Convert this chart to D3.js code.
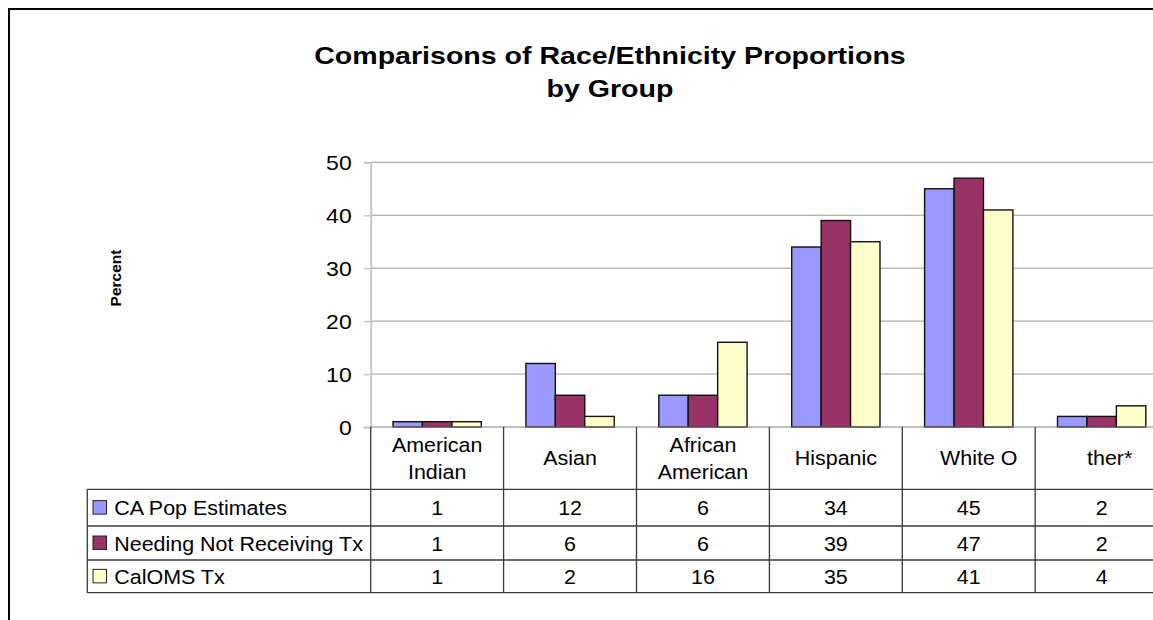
<!DOCTYPE html>
<html>
<head>
<meta charset="utf-8">
<script src="https://cdn.jsdelivr.net/npm/d3@7"></script>
<style>
  html, body { margin: 0; padding: 0; background: #fff; }
  svg { display: block; font-family: Arial, "Liberation Sans", sans-serif; }
</style>
</head>
<body>
<svg id="chart" width="1153" height="620"></svg>
<script>
// ---- data ----
const categories = ["American Indian", "Asian", "African American", "Hispanic", "White O", "ther*"];
const categoryLines = [["American", "Indian"], ["Asian"], ["African", "American"], ["Hispanic"], ["White O"], ["ther*"]];
const seriesNames = ["CA Pop Estimates", "Needing Not Receiving Tx", "CalOMS Tx"];
const caPopEstimates = [1, 12, 6, 34, 45, 2];
const needingNotReceivingTx = [1, 6, 6, 39, 47, 2];
const calomsTx = [1, 2, 16, 35, 41, 4];
const yTicks = [0, 10, 20, 30, 40, 50];
const titleLines = ["Comparisons of Race/Ethnicity Proportions", "by Group"];
const yAxisTitle = "Percent";

const seriesValues = [caPopEstimates, needingNotReceivingTx, calomsTx];
const seriesColors = ["#9999FF", "#993366", "#FFFFCC"];

// ---- layout ----
const svg = d3.select("#chart");
const plotLeft = 370.7, catW = 132.9;
const plotRight = plotLeft + catW * categories.length;
const zeroY = 427, topY = 162.3;
const tableLeft = 87.3;
const rowLines = [489.3, 526, 560, 592.7];
const SX = 1.1; // horizontal stretch of text in reference

function stext(g, x, y, str, opts) {
  opts = opts || {};
  const t = g.append("text")
    .attr("transform", `translate(${x},${y}) scale(${opts.sx || SX},1)`)
    .attr("text-anchor", opts.anchor || "middle")
    .attr("font-size", opts.size || 19.5)
    .attr("font-weight", opts.weight || "normal")
    .attr("fill", "#000")
    .text(str);
  return t;
}

// outer border
svg.append("rect").attr("x", 9).attr("y", 9).attr("width", 1200).attr("height", 700)
  .attr("fill", "none").attr("stroke", "#000").attr("stroke-width", 2);

// title
const titleG = svg.append("g");
titleLines.forEach((l, i) => stext(titleG, 610, 63.5 + i * 33, l, { size: 24, weight: "bold", sx: 1.19 }));

// scales
const x = d3.scaleBand().domain(categories).range([plotLeft, plotRight]).padding(0);
const xs = d3.scaleBand().domain(seriesNames).range([22.3, catW - 22.3]).padding(0);
const y = d3.scaleLinear().domain([0, 50]).range([zeroY, topY]);

// gridlines
svg.append("g").selectAll("line").data(yTicks.filter(d => d > 0)).join("line")
  .attr("x1", plotLeft).attr("x2", plotRight)
  .attr("y1", d => y(d)).attr("y2", d => y(d))
  .attr("stroke", "#9a9a9a").attr("stroke-width", 1);

// y axis
const yAxis = d3.axisLeft(y).tickValues(yTicks).tickSize(7).tickPadding(0).tickFormat(d3.format("d"));
const yg = svg.append("g").attr("transform", `translate(${plotLeft},0)`).call(yAxis);
yg.select(".domain").attr("stroke", "#c8c8c8").attr("stroke-width", 2);
yg.selectAll(".tick line").attr("stroke", "#c8c8c8").attr("stroke-width", 1.5);
yg.selectAll(".tick text").remove();
yg.selectAll(".tick").each(function(d) {
  stext(d3.select(this), -19, 7, d3.format("d")(d), { anchor: "end", size: 20, sx: 1.15 });
});

// y axis title
svg.append("text")
  .attr("transform", "translate(121,278) rotate(-90)")
  .attr("text-anchor", "middle").attr("font-size", 15.5).attr("font-weight", "bold")
  .text(yAxisTitle);

// bars
const barG = svg.append("g");
seriesNames.forEach((s, si) => {
  barG.append("g").selectAll("rect").data(seriesValues[si]).join("rect")
    .attr("x", (d, i) => x(categories[i]) + xs(s))
    .attr("y", d => y(d))
    .attr("width", xs.bandwidth())
    .attr("height", d => y(0) - y(d))
    .attr("fill", seriesColors[si])
    .attr("stroke", "#111").attr("stroke-width", 1.4);
});

// zero line
svg.append("line").attr("x1", plotLeft).attr("x2", plotRight).attr("y1", zeroY).attr("y2", zeroY)
  .attr("stroke", "#808080").attr("stroke-width", 1.2);

// ---- data table ----
const tbl = svg.append("g");
const lineCol = "#3a3a3a";
d3.range(categories.length + 1).forEach(i => {
  const xx = plotLeft + i * catW;
  tbl.append("line").attr("x1", xx).attr("x2", xx).attr("y1", zeroY).attr("y2", rowLines[3])
    .attr("stroke", lineCol).attr("stroke-width", 1.3);
});
tbl.append("line").attr("x1", tableLeft).attr("x2", tableLeft).attr("y1", rowLines[0]).attr("y2", rowLines[3])
  .attr("stroke", lineCol).attr("stroke-width", 1.3);
rowLines.forEach(ry => {
  tbl.append("line").attr("x1", tableLeft).attr("x2", plotRight).attr("y1", ry).attr("y2", ry)
    .attr("stroke", lineCol).attr("stroke-width", 1.3);
});

// header labels
const labelDx = { "White O": 10, "ther*": 8 };
categories.forEach((c, i) => {
  const cx = x(c) + x.bandwidth() / 2 + (labelDx[c] || 0);
  const lines = categoryLines[i];
  const mid = (zeroY + rowLines[0]) / 2;
  lines.forEach((l, li) => {
    const by = mid + 7 + (li - (lines.length - 1) / 2) * 27;
    stext(tbl, cx, by, l);
  });
});

// rows
seriesNames.forEach((s, si) => {
  const top = rowLines[si], bot = rowLines[si + 1];
  const mid = (top + bot) / 2;
  tbl.append("rect").attr("x", 93).attr("y", mid - 7).attr("width", 13.5).attr("height", 13.5)
    .attr("fill", seriesColors[si]).attr("stroke", "#222").attr("stroke-width", 1);
  stext(tbl, 114.3, mid + 7.5, s, { anchor: "start" });
  seriesValues[si].forEach((v, ci) => {
    stext(tbl, x(categories[ci]) + x.bandwidth() / 2, mid + 7.5, String(v));
  });
});
</script>
</body>
</html>
